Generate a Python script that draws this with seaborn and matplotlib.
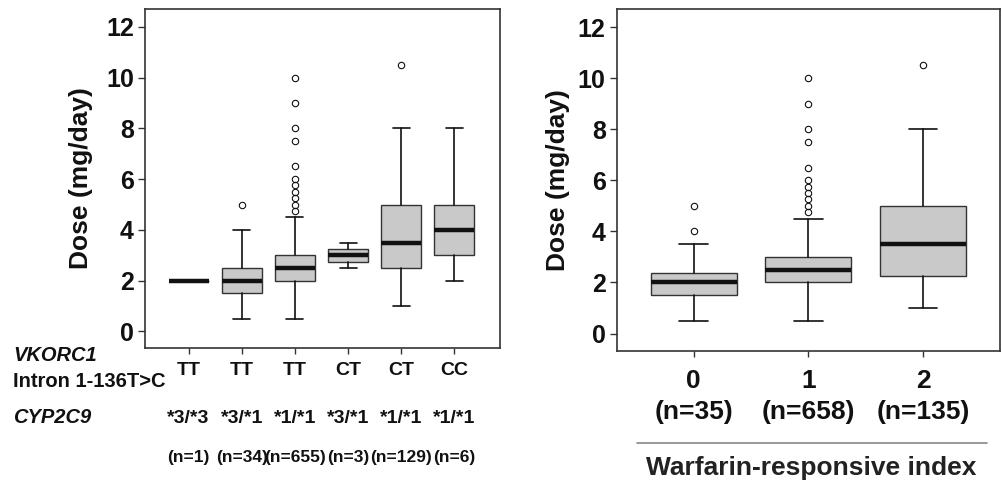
import matplotlib
matplotlib.use("Agg")
import matplotlib.pyplot as plt
import seaborn as sns

# left panel: VKORC1 x CYP2C9 genotype groups
vkorc1 = ["TT", "TT", "TT", "CT", "CT", "CC"]
cyp2c9 = ["*3/*3", "*3/*1", "*1/*1", "*3/*1", "*1/*1", "*1/*1"]
n_left = ["(n=1)", "(n=34)", "(n=655)", "(n=3)", "(n=129)", "(n=6)"]
med_left = [2.0, 2.0, 2.5, 3.0, 3.5, 4.0]
q1_left = [2.0, 1.5, 2.0, 2.75, 2.5, 3.0]
q3_left = [2.0, 2.5, 3.0, 3.25, 5.0, 5.0]
lo_left = [2.0, 0.5, 0.5, 2.5, 1.0, 2.0]
hi_left = [2.0, 4.0, 4.5, 3.5, 8.0, 8.0]
fliers_left = [[], [5.0],
               [4.75, 5.0, 5.25, 5.5, 5.75, 6.0, 6.5, 7.5, 8.0, 9.0, 10.0],
               [], [10.5], []]

# right panel: warfarin-responsive index
index_lab = ["0", "1", "2"]
n_right = ["(n=35)", "(n=658)", "(n=135)"]
med_right = [2.0, 2.5, 3.5]
q1_right = [1.5, 2.0, 2.25]
q3_right = [2.375, 3.0, 5.0]
lo_right = [0.5, 0.5, 1.0]
hi_right = [3.5, 4.5, 8.0]
fliers_right = [[4.0, 5.0],
                [4.75, 5.0, 5.25, 5.5, 5.75, 6.0, 6.5, 7.5, 8.0, 9.0, 10.0],
                [10.5]]

sns.set_theme(style="ticks")
plt.rcParams["font.family"] = ["Liberation Sans", "DejaVu Sans"]
plt.rcParams["font.weight"] = "bold"
plt.rcParams["axes.edgecolor"] = "#333333"
plt.rcParams["axes.linewidth"] = 1.2
plt.rcParams["text.color"] = "#111111"
plt.rcParams["axes.labelcolor"] = "#111111"
plt.rcParams["xtick.labelcolor"] = "#111111"
plt.rcParams["ytick.labelcolor"] = "#111111"

fig = plt.figure(figsize=(10.03, 4.83), dpi=100)
ax1 = fig.add_axes([0.1446, 0.2795, 0.354, 0.702])
ax2 = fig.add_axes([0.615, 0.273, 0.382, 0.708])


def make_stats(med, q1, q3, lo, hi, fl):
    return [dict(med=m, q1=a, q3=b, whislo=l, whishi=h, fliers=f)
            for m, a, b, l, h, f in zip(med, q1, q3, lo, hi, fl)]


box_kw = dict(
    widths=0.75, patch_artist=True,
    boxprops=dict(facecolor="#c9c9c9", edgecolor="#333333", linewidth=1.0),
    medianprops=dict(color="#111111", linewidth=3.2, solid_capstyle="butt"),
    whiskerprops=dict(color="#111111", linewidth=1.2),
    capprops=dict(color="#111111", linewidth=1.2),
    flierprops=dict(marker="o", markersize=4.6, markerfacecolor="none",
                    markeredgecolor="#111111", markeredgewidth=0.8),
)

ax1.bxp(make_stats(med_left, q1_left, q3_left, lo_left, hi_left, fliers_left),
        positions=range(1, 7), capwidths=0.32, **box_kw)
ax2.bxp(make_stats(med_right, q1_right, q3_right, lo_right, hi_right, fliers_right),
        positions=range(1, 4), capwidths=0.25, **box_kw)

ax1.set_xlim(0.18, 6.86)
ax1.set_ylim(-0.65, 12.7)
ax2.set_xlim(0.33, 3.67)
ax2.set_ylim(-0.69, 12.7)

for ax in (ax1, ax2):
    ax.set_yticks([0, 2, 4, 6, 8, 10, 12])
    ax.tick_params(axis="y", labelsize=18, length=5, width=1.0, pad=3,
                   color="#333333")
    ax.tick_params(axis="x", length=4, width=1.0, color="#333333")
    ax.set_ylabel("Dose (mg/day)", fontsize=19, fontweight="bold")
    for s in ax.spines.values():
        s.set_visible(True)

ax1.yaxis.set_label_coords(-0.146, 0.5)
ax2.yaxis.set_label_coords(-0.123, 0.5)

ax1.set_xticks(range(1, 7))
ax1.set_xticklabels(vkorc1, fontsize=14)
ax1.tick_params(axis="x", pad=6)

xt = ax1.get_xaxis_transform()
for i, (c, n) in enumerate(zip(cyp2c9, n_left)):
    ax1.text(i + 1, -0.2065, c, transform=xt, ha="center", va="center",
             fontsize=14, fontweight="bold")
    ax1.text(i + 1, -0.3215, n, transform=xt, ha="center", va="center",
             fontsize=12.5, fontweight="bold")

fig.text(0.013, 0.265, "VKORC1", ha="left", va="center", fontsize=14.5,
         fontweight="bold", style="italic")
fig.text(0.013, 0.211, "Intron 1-136T>C", ha="left", va="center",
         fontsize=14.5, fontweight="bold")
fig.text(0.013, 0.1346, "CYP2C9", ha="left", va="center", fontsize=14.5,
         fontweight="bold", style="italic")

ax2.set_xticks(range(1, 4))
ax2.set_xticklabels([f"{a}\n{b}" for a, b in zip(index_lab, n_right)],
                    fontsize=19, linespacing=1.35)
ax2.tick_params(axis="x", pad=9)

fig.add_artist(plt.Line2D([637 / 1003, 987 / 1003], [1 - 443 / 483] * 2,
                          color="#888888", linewidth=1.2))
fig.text(811 / 1003, 1 - 468 / 483, "Warfarin-responsive index",
         ha="center", va="center", fontsize=19, fontweight="bold",
         color="#222222")

plt.savefig("out.png", dpi=100)
plt.close()
